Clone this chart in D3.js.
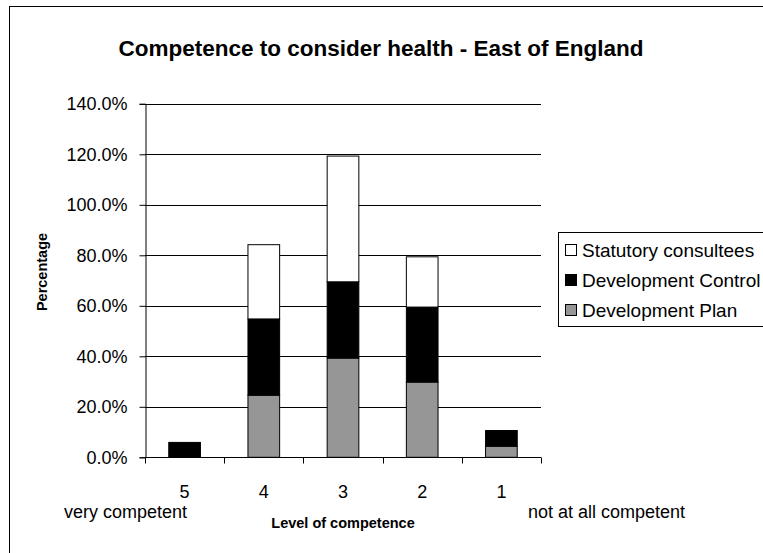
<!DOCTYPE html>
<html>
<head>
<meta charset="utf-8">
<script src="https://cdn.jsdelivr.net/npm/d3@7"></script>
<style>
  html, body { margin: 0; padding: 0; background: #fff; }
  svg { display: block; font-family: "Liberation Sans", Arial, sans-serif; }
</style>
</head>
<body>
<svg id="chart" width="763" height="553"></svg>
<script>
// Competence levels, from most to least competent
const categories = ["5", "4", "3", "2", "1"];

// Stacked series (percent), bottom to top
const developmentPlan    = [0,   24.6, 39.3, 29.8, 4.4];
const developmentControl = [5.9, 30.2, 30.2, 29.7, 6.2];
const statutoryConsultees = [0,  29.4, 49.8, 19.9, 0];

const seriesNames = ["Development Plan", "Development Control", "Statutory consultees"];
const seriesColors = ["#969696", "#000000", "#ffffff"];

const yTicks = [0, 20, 40, 60, 80, 100, 120, 140];

const svg = d3.select("#chart");

// Outer chart frame
svg.append("rect")
  .attr("x", 9.5).attr("y", 6.5)
  .attr("width", 800).attr("height", 600)
  .attr("fill", "#fff").attr("stroke", "#000").attr("stroke-width", 1);

const plot = { left: 145, right: 541, top: 103.8, bottom: 457.3 };

const y = d3.scaleLinear().domain([0, 140]).range([plot.bottom, plot.top]);
const xAxisBand = d3.scaleBand().domain(categories).range([plot.left, plot.right]).padding(0);
const xBar = d3.scaleBand().domain(categories).range([plot.left, plot.right])
  .paddingInner(0.6).paddingOuter(0.3);

// Horizontal gridlines
svg.append("g")
  .selectAll("line")
  .data(yTicks.filter(d => d > 0))
  .join("line")
  .attr("x1", plot.left).attr("x2", plot.right)
  .attr("y1", d => Math.round(y(d)) + 0.5).attr("y2", d => Math.round(y(d)) + 0.5)
  .attr("stroke", "#000").attr("stroke-width", 1);

// Stack the three series
const rows = categories.map((c, i) => ({
  cat: c,
  "Development Plan": developmentPlan[i],
  "Development Control": developmentControl[i],
  "Statutory consultees": statutoryConsultees[i]
}));
const stacked = d3.stack().keys(seriesNames)(rows);

svg.append("g")
  .selectAll("g")
  .data(stacked)
  .join("g")
  .attr("fill", (d, i) => seriesColors[i])
  .selectAll("rect")
  .data(d => d.filter(p => p[1] - p[0] > 0))
  .join("rect")
  .attr("x", d => xBar(d.data.cat))
  .attr("width", xBar.bandwidth())
  .attr("y", d => y(d[1]))
  .attr("height", d => y(d[0]) - y(d[1]))
  .attr("stroke", "#000").attr("stroke-width", 1);

// Y axis
const yAxis = d3.axisLeft(y)
  .tickValues(yTicks)
  .tickFormat(d => d.toFixed(1) + "%")
  .tickSizeOuter(0)
  .tickSize(6)
  .tickPadding(12);
const gy = svg.append("g").attr("transform", `translate(${plot.left + 0.5},0)`).call(yAxis);
gy.selectAll("text").attr("font-size", 18).attr("fill", "#000")
  .attr("font-family", "Liberation Sans, Arial, sans-serif");
gy.selectAll("line, path").attr("stroke", "#000");

// X axis: tick marks at category boundaries, labels at category centres
const gx = svg.append("g").attr("transform", `translate(0,${Math.round(plot.bottom) + 0.5})`);
gx.append("line").attr("x1", plot.left).attr("x2", plot.right).attr("stroke", "#000");
const boundaries = categories.map(c => xAxisBand(c)).concat([xAxisBand.range()[1]]);
gx.selectAll("line.tick")
  .data(boundaries)
  .join("line").attr("class", "tick")
  .attr("x1", d => Math.round(d) + 0.5).attr("x2", d => Math.round(d) + 0.5)
  .attr("y1", 0).attr("y2", 6)
  .attr("stroke", "#000");
gx.selectAll("text")
  .data(categories)
  .join("text")
  .attr("x", d => xAxisBand(d) + xAxisBand.bandwidth() / 2)
  .attr("y", 40)
  .attr("text-anchor", "middle")
  .attr("font-size", 18)
  .text(d => d);

// Scale end captions
svg.append("text").attr("x", 64).attr("y", 518).attr("font-size", 18).text("very competent");
svg.append("text").attr("x", 528).attr("y", 518).attr("font-size", 18).text("not at all competent");

// Axis titles
svg.append("text")
  .attr("x", (plot.left + plot.right) / 2).attr("y", 528)
  .attr("text-anchor", "middle").attr("font-size", 14.5).attr("font-weight", "bold")
  .text("Level of competence");
svg.append("text")
  .attr("transform", `translate(47,272) rotate(-90)`)
  .attr("text-anchor", "middle").attr("font-size", 14.5).attr("font-weight", "bold")
  .text("Percentage");

// Chart title
svg.append("text")
  .attr("x", 381).attr("y", 56)
  .attr("text-anchor", "middle").attr("font-size", 22.5).attr("font-weight", "bold")
  .text("Competence to consider health - East of England");

// Legend, listed top to bottom in reverse stacking order
const legend = svg.append("g");
legend.append("rect")
  .attr("x", 558.5).attr("y", 232.5).attr("width", 260).attr("height", 94)
  .attr("fill", "#fff").attr("stroke", "#000");
const legendItems = seriesNames.map((n, i) => ({ name: n, color: seriesColors[i] })).reverse();
const li = legend.selectAll("g.item").data(legendItems).join("g").attr("class", "item")
  .attr("transform", (d, i) => `translate(0,${250 + i * 30})`);
li.append("rect")
  .attr("x", 565.5).attr("y", -5.5).attr("width", 11).attr("height", 11)
  .attr("fill", d => d.color).attr("stroke", "#000");
li.append("text")
  .attr("x", 582).attr("y", 7).attr("font-size", 19)
  .text(d => d.name);
</script>
</body>
</html>
